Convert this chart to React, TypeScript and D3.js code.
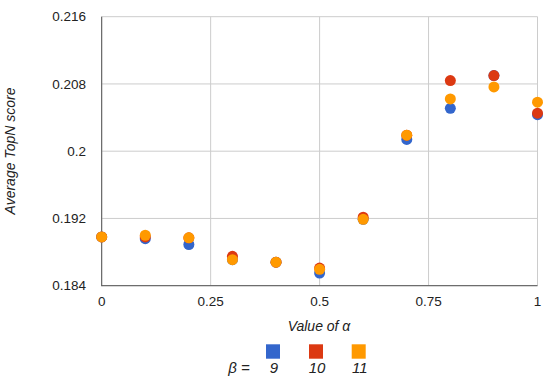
import React from "react";
import * as d3 from "d3";

const alphas = [0, 0.1, 0.2, 0.3, 0.4, 0.5, 0.6, 0.7, 0.8, 0.9, 1.0];
const beta9 = [0.1898, 0.1896, 0.1889, 0.1871, 0.1868, 0.1855, 0.1919, 0.2014, 0.2051, 0.209, 0.20435];
const beta10 = [0.1898, 0.1898, 0.1897, 0.1875, 0.1868, 0.1861, 0.19215, 0.2019, 0.2084, 0.209, 0.20452];
const beta11 = [0.1898, 0.19, 0.1897, 0.1871, 0.1868, 0.18595, 0.1919, 0.2019, 0.20622, 0.20765, 0.20583];
const seriesNames = ["9", "10", "11"];
const colors = ["#3366cc", "#dc3912", "#ff9900"];
const xTicks = [0, 0.25, 0.5, 0.75, 1];
const xTickLabels = ["0", "0.25", "0.5", "0.75", "1"];
const yTicks = [0.184, 0.192, 0.2, 0.208, 0.216];
const yTickLabels = ["0.184", "0.192", "0.2", "0.208", "0.216"];

export default function App() {
  const W = 546, H = 376;
  const left = 101.7, right = 537.5, top = 16.7, bottom = 285.7;
  const x = d3.scaleLinear().domain([0, 1]).range([left, right]);
  const y = d3.scaleLinear().domain([0.184, 0.216]).range([bottom, top]);
  const series = [beta9, beta10, beta11];
  const font = "'Liberation Sans', Arial, sans-serif";
  const legendX = [273, 316, 358.7];
  return (
    <svg width={W} height={H} style={{ position: "absolute", left: 0, top: 0 }} fontFamily={font}>
      <rect width={W} height={H} fill="#fff" />
      {xTicks.map((t, i) => (
        <line key={"gx" + i} x1={x(t)} x2={x(t)} y1={top} y2={bottom} stroke="#cccccc" strokeWidth={1} />
      ))}
      {yTicks.map((t, i) => (
        <line key={"gy" + i} x1={left} x2={right} y1={y(t)} y2={y(t)} stroke="#cccccc" strokeWidth={1} />
      ))}
      <line x1={left} x2={left} y1={top} y2={bottom + 0.5} stroke="#555" strokeWidth={1} />
      <line x1={left} x2={right} y1={bottom} y2={bottom} stroke="#555" strokeWidth={1} />
      {yTicks.map((t, i) => (
        <text key={"ty" + i} x={86} y={y(t)} dy="0.35em" textAnchor="end" fontSize={13.5} fill="#222">
          {yTickLabels[i]}
        </text>
      ))}
      {xTicks.map((t, i) => (
        <text key={"tx" + i} x={x(t)} y={306} textAnchor="middle" fontSize={13.5} fill="#222">
          {xTickLabels[i]}
        </text>
      ))}
      {series.map((s, si) =>
        s.map((v, i) => (
          <circle key={si + "-" + i} cx={x(alphas[i])} cy={y(v)} r={5.5} fill={colors[si]} />
        ))
      )}
      <text x={319} y={331} textAnchor="middle" fontSize={14} fontStyle="italic" fill="#222">
        Value of α
      </text>
      <text
        transform={`translate(15,151) rotate(-90)`}
        textAnchor="middle"
        fontSize={14}
        fontStyle="italic"
        fill="#222"
      >
        Average TopN score
      </text>
      <text x={239} y={373} textAnchor="middle" fontSize={15} fontStyle="italic" fill="#222">
        β =
      </text>
      {seriesNames.map((n, i) => (
        <g key={"lg" + i}>
          <rect x={legendX[i] - 7} y={344.3} width={14} height={14.4} fill={colors[i]} />
          <text x={legendX[i] + 1} y={373} textAnchor="middle" fontSize={15} fontStyle="italic" fill="#222">
            {n}
          </text>
        </g>
      ))}
    </svg>
  );
}
